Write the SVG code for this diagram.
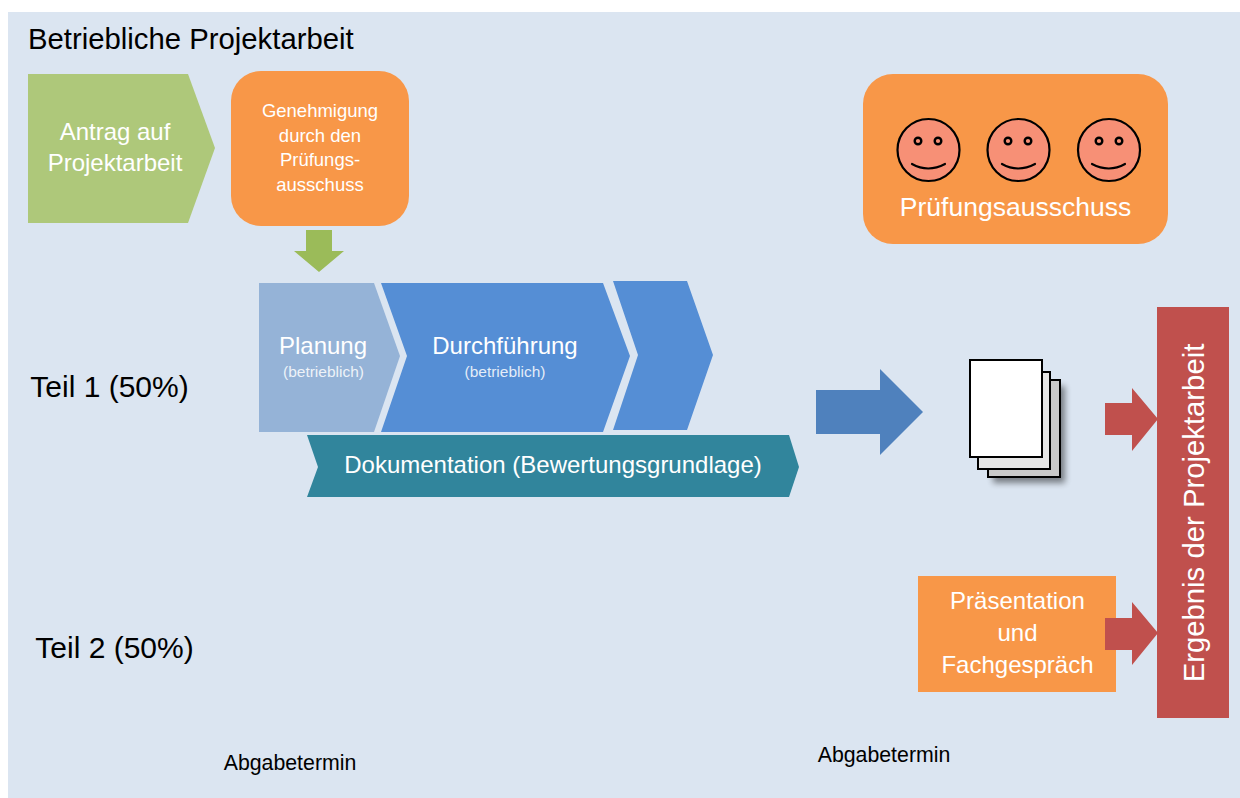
<svg xmlns="http://www.w3.org/2000/svg" width="1240" height="798" viewBox="0 0 1240 798">
<style>
text{font-family:"Liberation Sans",Arial,sans-serif;text-anchor:middle;fill:#fff}
.k{fill:#000}
.face{fill:#f79076;stroke:#000;stroke-width:2.2}
.eye{fill:#f79076;stroke:#000;stroke-width:2.4}
.smile{fill:none;stroke:#000;stroke-width:2.2;stroke-linecap:round}
.page{stroke:#000;stroke-width:2}
</style>
<defs><filter id="sh" x="-20%" y="-20%" width="150%" height="150%"><feGaussianBlur stdDeviation="3"/></filter></defs>
<rect width="1240" height="798" fill="#fff"/>
<rect id="background" x="8" y="12" width="1232" height="786" fill="#dbe5f1"/>
<text class="k" x="28" y="49" font-size="29.3" style="text-anchor:start">Betriebliche Projektarbeit</text>
<g id="antrag"><polygon points="28,74 188,74 215,148 188,223 28,223" fill="#aec87a"/>
<text x="115" y="140" font-size="24">Antrag auf</text><text x="115" y="171" font-size="24">Projektarbeit</text></g>
<g id="genehmigung"><rect x="231" y="71" width="178" height="155" rx="30" fill="#f89748"/>
<text x="320" y="117" font-size="18.5">Genehmigung</text><text x="320" y="142" font-size="18.5">durch den</text><text x="320" y="166" font-size="18.5">Prüfungs-</text><text x="320" y="191" font-size="18.5">ausschuss</text></g>
<g id="connectors">
<polygon points="306,230 332,230 332,251 344,251 319,272 294,251 306,251" fill="#9bbb59"/>
<polygon points="816,390 880,390 880,369 923,412 880,455 880,434 816,434" fill="#4f81bd"/>
<polygon points="1105,403 1132,403 1132,388 1158,419 1132,451 1132,435 1105,435" fill="#c0504d"/>
</g>
<g id="planung"><polygon points="259,283 374,283 400,356 374,432 259,432" fill="#95b3d7"/>
<text x="323" y="354" font-size="24">Planung</text><text x="323.500" y="377" font-size="15.500" fill-opacity=".85">(betrieblich)</text></g>
<g id="durchfuehrung"><polygon points="381,283 603,283 630,356 603,432 381,432 407,356" fill="#558ed5"/>
<text x="505" y="354" font-size="24">Durchführung</text><text x="505" y="377" font-size="15.500" fill-opacity=".85">(betrieblich)</text></g>
<g id="chevron3"><polygon points="613,281 687,281 713,355 687,430 613,430 638,355" fill="#558ed5"/></g>
<g id="dokumentation"><polygon points="307,435 789,435 799,467 789,497 307,497 318,467" fill="#31859c"/>
<text x="553" y="473" font-size="24">Dokumentation (Bewertungsgrundlage)</text></g>
<g id="pruefungsausschuss"><rect x="863" y="74" width="305" height="170" rx="30" fill="#f89748"/>
<g id="smiley1"><circle cx="928.500" cy="150" r="31" class="face"/><circle cx="918" cy="141" r="3.300" class="eye"/><circle cx="938" cy="141" r="3.300" class="eye"/><path d="M912 164Q928 173 945 164" class="smile"/></g>
<g id="smiley2"><circle cx="1018.500" cy="150" r="31" class="face"/><circle cx="1008" cy="141" r="3.300" class="eye"/><circle cx="1028" cy="141" r="3.300" class="eye"/><path d="M1002 164Q1018 173 1035 164" class="smile"/></g>
<g id="smiley3"><circle cx="1109" cy="150" r="31" class="face"/><circle cx="1099" cy="141" r="3.300" class="eye"/><circle cx="1119" cy="141" r="3.300" class="eye"/><path d="M1092 164Q1109 173 1125 164" class="smile"/></g>
<text x="1015.500" y="216" font-size="26.500">Prüfungsausschuss</text></g>
<text class="k" x="109.500" y="397" font-size="30">Teil 1 (50%)</text>
<g id="dokumente"><rect x="993" y="386" width="72" height="97" fill="#000" opacity=".45" filter="url(#sh)"/>
<rect x="988" y="380" width="72" height="97" fill="#c9c9c9" class="page"/>
<rect x="978" y="372" width="72" height="97" fill="#e6e6e6" class="page"/>
<rect x="970" y="360" width="72" height="97" fill="#fff" class="page"/></g>
<g id="ergebnis"><rect x="1157" y="307" width="72" height="411" fill="#c0504d"/>
<text transform="translate(1204,513) rotate(-90)" font-size="29.300">Ergebnis der Projektarbeit</text></g>
<text class="k" x="114.500" y="658" font-size="30">Teil 2 (50%)</text>
<g id="praesentation"><rect x="918" y="576" width="198" height="116" fill="#f89748"/>
<text x="1017.500" y="609" font-size="24">Präsentation</text><text x="1017.500" y="641" font-size="24">und</text><text x="1017.500" y="673" font-size="24">Fachgespräch</text></g>
<polygon points="1105,618 1132,618 1132,602 1158,633 1132,665 1132,650 1105,650" fill="#c0504d"/>
<text class="k" x="290" y="770" font-size="21.300">Abgabetermin</text>
<text class="k" x="884" y="762" font-size="21.300">Abgabetermin</text>
</svg>
